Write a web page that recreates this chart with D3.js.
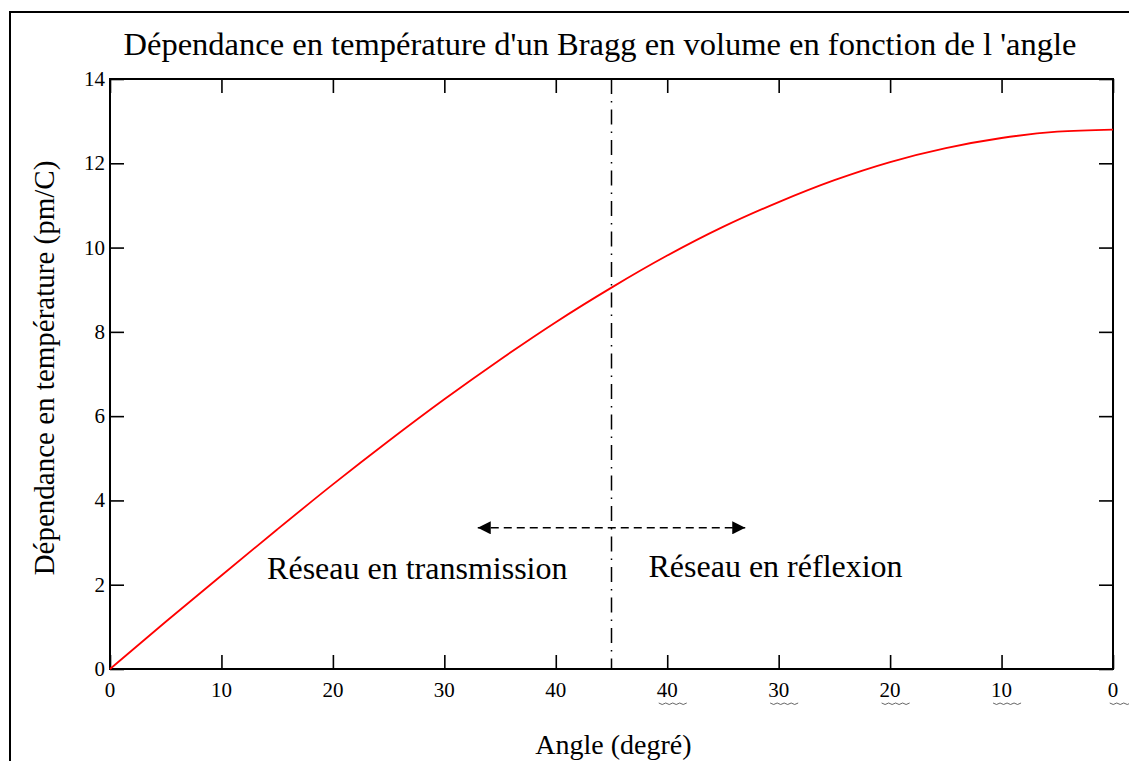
<!DOCTYPE html>
<html>
<head>
<meta charset="utf-8">
<script src="https://cdn.jsdelivr.net/npm/d3@7"></script>
<style>
  body { margin: 0; background: #fff; }
  svg { display: block; }
  text { font-family: "Liberation Serif", "Times New Roman", serif; fill: #000; }
</style>
</head>
<body>
<div class="canvas"></div>
<script>
// data
const angles = [0, 5, 10, 15, 20, 25, 30, 35, 40, 45, 50, 55, 60, 65, 70, 75, 80, 85, 90];
const dependance = [0, 1.12, 2.22, 3.31, 4.38, 5.41, 6.4, 7.34, 8.23, 9.05, 9.81, 10.49, 11.08, 11.6, 12.03, 12.36, 12.6, 12.75, 12.8];
const xTickValues = [0, 10, 20, 30, 40, 50, 60, 70, 80, 90];
const xTickLabels = ["0", "10", "20", "30", "40", "40", "30", "20", "10", "0"];
const yTickValues = [0, 2, 4, 6, 8, 10, 12, 14];
const boundary = 45;
const arrowSpan = [33, 57];
const arrowLevel = 3.35;

const width = 1129;
const height = 761;
const margin = { top: 79, right: 16, bottom: 92, left: 110 };
const graphWidth = width - margin.left - margin.right;
const graphHeight = height - margin.top - margin.bottom;

const svg = d3
  .select(".canvas")
  .append("svg")
  .attr("width", width)
  .attr("height", height);

// outer frame (top and left edges only visible)
svg.append("path")
  .attr("d", `M10,${height} L10,12 L${width},12`)
  .attr("fill", "none")
  .attr("stroke", "#000")
  .attr("stroke-width", 2);

const defs = svg.append("defs");
defs.append("marker")
  .attr("id", "arrow")
  .attr("viewBox", "0 0 10 10")
  .attr("refX", 10)
  .attr("refY", 5)
  .attr("markerWidth", 16)
  .attr("markerHeight", 13)
  .attr("markerUnits", "userSpaceOnUse")
  .attr("orient", "auto-start-reverse")
  .append("path")
  .attr("d", "M0,0 L10,5 L0,10 Z")
  .attr("fill", "#000");

const graph = svg
  .append("g")
  .attr("transform", `translate(${margin.left}, ${margin.top})`);

// scales
const x = d3.scaleLinear().domain([0, 90]).range([0, graphWidth]);
const y = d3.scaleLinear().domain([0, 14]).range([graphHeight, 0]);

const tickLen = 14;

// axes: ticks drawn inward on all four sides
const xAxisBottom = d3.axisTop(x).tickValues(xTickValues).tickSize(tickLen).tickFormat("");
const xAxisTop = d3.axisBottom(x).tickValues(xTickValues).tickSize(tickLen).tickFormat("");
const yAxisLeft = d3.axisRight(y).tickValues(yTickValues).tickSize(tickLen).tickFormat("");
const yAxisRight = d3.axisLeft(y).tickValues(yTickValues).tickSize(tickLen).tickFormat("");

const styleAxis = (g) => {
  g.select(".domain").remove();
  g.selectAll(".tick line").attr("stroke", "#000").attr("stroke-width", 1.6);
};

graph.append("g").attr("transform", `translate(0, ${graphHeight})`).call(xAxisBottom).call(styleAxis);
graph.append("g").call(xAxisTop).call(styleAxis);
graph.append("g").call(yAxisLeft).call(styleAxis);
graph.append("g").attr("transform", `translate(${graphWidth}, 0)`).call(yAxisRight).call(styleAxis);

// plot frame
graph.append("rect")
  .attr("width", graphWidth)
  .attr("height", graphHeight)
  .attr("fill", "none")
  .attr("stroke", "#000")
  .attr("stroke-width", 2);

// tick labels
graph.selectAll(".x-label")
  .data(xTickValues)
  .enter()
  .append("text")
  .attr("class", "x-label")
  .attr("x", (d) => x(d))
  .attr("y", graphHeight + 28)
  .attr("text-anchor", "middle")
  .attr("font-size", 21)
  .text((d, i) => xTickLabels[i]);

// spell-check squiggles under the mirrored labels
graph.selectAll(".x-label")
  .filter((d) => d > boundary)
  .each(function () {
    const b = this.getBBox();
    const n = Math.round(b.width / 7) + 1;
    let p = `M${b.x + 2},${b.y + b.height + 1}`;
    for (let k = 0; k < n; k++) p += " q3.5,3 7,0";
    graph.append("path")
      .attr("d", p)
      .attr("fill", "none")
      .attr("stroke", "#555")
      .attr("stroke-width", 0.9);
  });

graph.selectAll(".y-label")
  .data(yTickValues)
  .enter()
  .append("text")
  .attr("class", "y-label")
  .attr("x", -5)
  .attr("y", (d) => y(d) + 7)
  .attr("text-anchor", "end")
  .attr("font-size", 21)
  .text((d) => d);

// boundary line between transmission and reflection
graph.append("line")
  .attr("x1", x(boundary))
  .attr("x2", x(boundary))
  .attr("y1", 0)
  .attr("y2", graphHeight)
  .attr("stroke", "#000")
  .attr("stroke-width", 1.5)
  .attr("stroke-dasharray", "15,7,1.5,7");

// dashed double arrow
graph.append("line")
  .attr("x1", x(arrowSpan[0]))
  .attr("x2", x(arrowSpan[1]))
  .attr("y1", y(arrowLevel))
  .attr("y2", y(arrowLevel))
  .attr("stroke", "#000")
  .attr("stroke-width", 1.6)
  .attr("stroke-dasharray", "8,5")
  .attr("marker-start", "url(#arrow)")
  .attr("marker-end", "url(#arrow)");

// line path
const line = d3
  .line()
  .x((d, i) => x(angles[i]))
  .y((d) => y(d))
  .curve(d3.curveMonotoneX);

graph.append("path")
  .datum(dependance)
  .attr("fill", "none")
  .attr("stroke", "#ff0000")
  .attr("stroke-width", 1.8)
  .attr("d", line);

// annotations
graph.append("text")
  .attr("x", x(boundary) - 44)
  .attr("y", y(arrowLevel) + 51)
  .attr("text-anchor", "end")
  .attr("font-size", 32)
  .text("Réseau en transmission");

graph.append("text")
  .attr("x", x(boundary) + 37)
  .attr("y", y(arrowLevel) + 49)
  .attr("text-anchor", "start")
  .attr("font-size", 32)
  .text("Réseau en réflexion");

// title and axis titles
svg.append("text")
  .attr("x", 600)
  .attr("y", 55)
  .attr("text-anchor", "middle")
  .attr("font-size", 32.5)
  .text("Dépendance en température d'un Bragg en volume en fonction de l 'angle");

svg.append("text")
  .attr("x", margin.left + x(boundary) + 2)
  .attr("y", 754)
  .attr("text-anchor", "middle")
  .attr("font-size", 28)
  .text("Angle (degré)");

svg.append("text")
  .attr("transform", `translate(54, 368) rotate(-90)`)
  .attr("text-anchor", "middle")
  .attr("font-size", 29)
  .text("Dépendance en température (pm/C)");
</script>
</body>
</html>
